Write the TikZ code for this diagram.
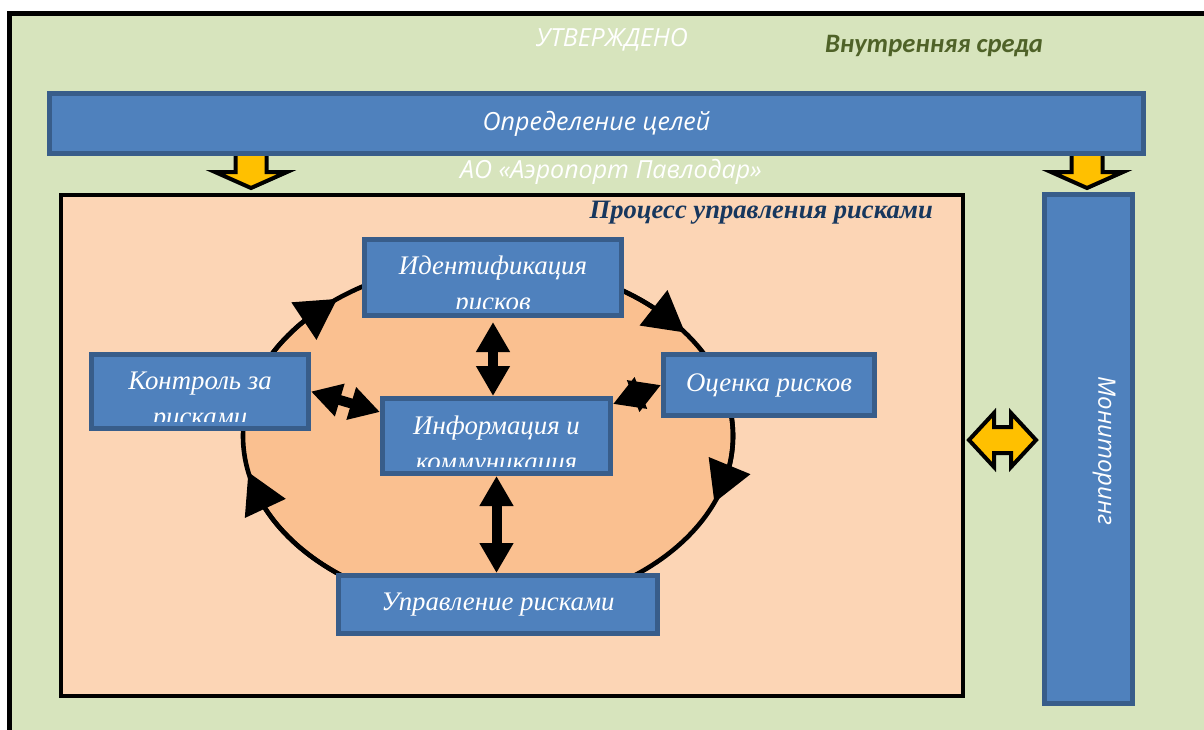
\documentclass[tikz,border=0pt]{standalone}
\usepackage{fontspec}
\setmainfont{Liberation Serif}
\newfontfamily\opensans{Open Sans}
\newfontfamily\carlito{Carlito}
\usepackage{tikz}
\usetikzlibrary{arrows,arrows.meta,bending}
\usetikzlibrary{calc}
\definecolor{umfeld}{RGB}{215,228,189}
\definecolor{kasten}{RGB}{79,129,189}
\definecolor{kastenrand}{RGB}{56,93,138}
\definecolor{prozess}{RGB}{252,213,181}
\definecolor{kreis}{RGB}{250,192,144}
\definecolor{gelb}{RGB}{255,192,0}
\definecolor{titel}{RGB}{23,55,94}
\definecolor{olive}{RGB}{79,98,40}

\begin{document}
\begin{tikzpicture}[x=0.5pt, y=-0.5pt, >={Triangle[length=20pt,width=22pt,flex]},
    kasten/.style={fill=kasten, draw=kastenrand, line width=2.5pt, inner sep=0pt},
    schrift/.style={text=white, font=\fontsize{13.4}{18}\selectfont\itshape, align=center},
    sans/.style={text=white, font=\opensans\itshape\fontsize{12.5}{15}\selectfont},
    blockpfeil/.style={line width=5pt, {Triangle[length=15pt,width=16pt]}-{Triangle[length=15pt,width=16pt]}},
    gelbpfeil/.style={fill=gelb, draw=black, line width=2pt, line join=miter},
    abgeschnitten/.style={path picture={
        \clip ([yshift=3.5pt]path picture bounding box.south west) rectangle (path picture bounding box.north east);
        \node[schrift] at ([yshift=#1]path picture bounding box.center) {\zeilen};}}]

    \useasboundingbox (0,0) rectangle (1204,729);
    \draw[line width=2.5pt, fill=umfeld] (9.5,13.5) rectangle (1240,760);

    \node[sans] (utv) at (612,40) {УТВЕРЖДЕНО};
    \node[font=\carlito\bfseries\itshape\fontsize{13.3}{16}\selectfont, text=olive] (sreda) at (934,46) {Внутренняя среда};
    \node[sans] (firma) at (611,172) {АО «Аэропорт Павлодар»};

    % gelbe Pfeile
    \coordinate (zl) at (251,156);
    \coordinate (zr) at (1087,156);
    \foreach \z in {zl,zr}
        \draw[gelbpfeil, shift={(\z)}] (-15.5,-6) -- (15.5,-6) -- (15.5,16) -- (36,16) -- (0,32) -- (-36,16) -- (-15.5,16) -- cycle;

    \node[kasten, sans, minimum width=547pt, minimum height=30pt] (ziele) at (596.5,123.5) {Определение целей};

    \node[draw=black, fill=prozess, line width=2pt, inner sep=0pt, minimum width=451pt, minimum height=250.5pt] (prozess) at (512,445.5) {};
    \node[anchor=east, text=titel, font=\bfseries\itshape\fontsize{13.3}{16}\selectfont] (prozesstitel) at (940,213) {Процесс управления рисками};

    % Kreislauf
    \draw[line width=2.3pt, fill=kreis] (488,436) ellipse [x radius=245, y radius=174];
    \foreach \a/\b in {200/232, 300/323.5, 350/382.5, 120/168}
        \draw[->, line width=2.3pt] ($(488,436)+(\a:245 and 174)$) arc[start angle=\a, end angle=\b, x radius=245, y radius=174];

    \def\zeilen{Идентификация\\рисков}
    \node[kasten, minimum width=128.5pt, minimum height=38pt, abgeschnitten=-4.5pt] (ident) at (493,277.5) {};
    \def\zeilen{Контроль за\\рисками}
    \node[kasten, minimum width=108.5pt, minimum height=37pt, abgeschnitten=-5pt] (kontrol) at (200,391.5) {};
    \node[kasten, schrift, minimum width=105.5pt, minimum height=30.5pt] (otsenka) at (769,385) {Оценка рисков};
    \def\zeilen{Информация и\\коммуникация}
    \node[kasten, minimum width=114pt, minimum height=37.5pt, abgeschnitten=-5pt] (inform) at (496.5,436) {};
    \node[kasten, schrift, minimum width=159.5pt, minimum height=29pt] (upravl) at (498,604.5) {Управление рисками};

    \draw[blockpfeil] ([yshift=-2pt]ident.south) -- (ident.south |- inform.north);
    \draw[blockpfeil] (inform.south) -- (inform.south |- upravl.north);
    \draw[blockpfeil] (kontrol.east) -- ($(inform.north west)!0.2!(inform.south west)$);
    \draw[blockpfeil] (otsenka.west) -- ($(inform.north east)!0.1!(inform.south east)$);

    % Monitoring
    \node[kasten, minimum width=44pt, minimum height=254.5pt] (monitor) at (1088.5,449) {};
    \node[sans, rotate=-90, font=\opensans\itshape\fontsize{12}{15}\selectfont] (monitortext) at (1104,451) {Мониторинг};

    \coordinate (dp) at (1002.5,440);
    \draw[gelbpfeil, shift={(dp)}] (-33.5,0) -- (-8.5,-27) -- (-8.5,-13) -- (8.5,-13) -- (8.5,-27) -- (33.5,0)
        -- (8.5,27) -- (8.5,13) -- (-8.5,13) -- (-8.5,27) -- cycle;

\end{tikzpicture}
\end{document}
